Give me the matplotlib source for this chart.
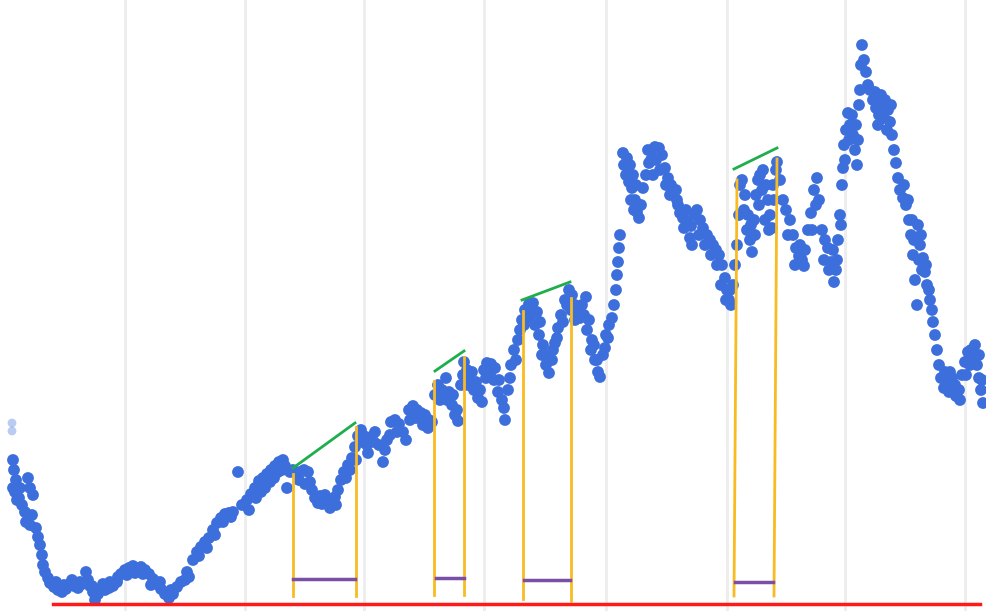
import matplotlib.pyplot as plt

# price series, as (day, price) pairs
faded = [(12, 188), (12, 180)]

decline = [(13, 151), (14, 141), (16, 131), (15, 119), (17, 111), (20, 123),
           (22, 106), (25, 99), (28, 133), (30, 123), (33, 116), (32, 96), (30, 86), (36, 83),
           (38, 74), (40, 66), (42, 56), (43, 46), (45, 39), (48, 33), (50, 28),
           (13, 123), (19, 113), (26, 89)]

bottom = [(54, 24), (58, 21), (62, 19), (66, 22), (70, 27), (74, 25), (78, 23), (82, 27),
          (86, 39), (88, 31), (90, 25), (93, 19), (95, 11), (98, 17), (101, 22), (105, 21),
          (109, 23), (113, 25), (117, 29), (121, 37), (125, 41), (129, 43), (133, 45), (137, 42),
          (141, 44), (145, 41), (149, 37), (153, 32), (157, 27), (161, 22), (165, 17), (169, 13),
          (173, 17), (177, 24), (181, 29), (185, 31), (189, 34),
          (56, 29), (64, 26), (72, 31), (80, 29), (92, 25), (103, 27), (110, 29), (118, 34),
          (127, 36), (135, 38), (143, 37), (151, 26), (160, 29), (171, 21), (187, 39)]

recovery = [(193, 51), (197, 59), (201, 64), (205, 69), (209, 73), (213, 81), (217, 88), (221, 93),
            (225, 97), (229, 98), (233, 99), (238, 139), (242, 106), (247, 111), (251, 117),
            (255, 123), (259, 130), (263, 133), (267, 137), (271, 141), (275, 145), (279, 149),
            (283, 151), (287, 123), (290, 139), (293, 141), (297, 137), (300, 139), (304, 141),
            (308, 139), (312, 121), (315, 113), (318, 108), (322, 107), (327, 108), (331, 110),
            (335, 114), (338, 121), (341, 131), (344, 139), (348, 146), (352, 153), (355, 164),
            (358, 175), (361, 181), (364, 175), (367, 166), (371, 174), (375, 179), (379, 166),
            (383, 149), (387, 171), (391, 189), (395, 191), (399, 187), (403, 179), (406, 171),
            (409, 201), (413, 205), (417, 201), (421, 198), (425, 196), (429, 191), (432, 189),
            (199, 55), (207, 63), (215, 76), (223, 89), (231, 94),
            (249, 101), (256, 113), (261, 119), (265, 123), (270, 129), (274, 133), (278, 139),
            (282, 141), (285, 145), (299, 131), (305, 127), (310, 129), (320, 115), (325, 116),
            (330, 103), (336, 106), (346, 133), (350, 141), (356, 151), (362, 169), (368, 158),
            (374, 169), (385, 161), (390, 176), (397, 179), (410, 191), (416, 193), (423, 186),
            (428, 183)]

rally = [(435, 216), (438, 226), (442, 221), (446, 233), (449, 219), (452, 206), (455, 196),
         (458, 190), (461, 226), (464, 249), (467, 241), (470, 231), (474, 221), (478, 213),
         (482, 209), (484, 241), (487, 248), (491, 247), (495, 243), (499, 231), (502, 211),
         (505, 191), (508, 221), (511, 246), (514, 261), (518, 271), (522, 291), (525, 301),
         (529, 307), (533, 308), (537, 299), (540, 289), (543, 266), (546, 246), (549, 238),
         (552, 251), (555, 268), (558, 283), (561, 296), (565, 311), (569, 321), (572, 316),
         (575, 306), (578, 299), (582, 306), (586, 314), (589, 291), (592, 271), (595, 251),
         (598, 239), (600, 234), (603, 256), (606, 276), (609, 286), (612, 293), (614, 306),
         (616, 321), (617, 336), (618, 349), (619, 363), (620, 376),
         (440, 211), (447, 211), (453, 216), (457, 201), (463, 236), (468, 226), (472, 239),
         (476, 229), (480, 221), (486, 233), (490, 236), (494, 231), (498, 219), (504, 203),
         (510, 233), (516, 251), (520, 281), (524, 286), (527, 293), (531, 296), (535, 286),
         (539, 276), (542, 256), (548, 256), (553, 261), (557, 273), (563, 289), (567, 306),
         (571, 301), (575, 291), (580, 293), (584, 296), (587, 281), (591, 261), (594, 266),
         (597, 251), (605, 263), (608, 273)]

plateau = [(623, 458), (624, 446), (626, 436), (629, 429), (632, 423), (635, 411), (637, 399),
           (639, 393), (641, 406), (643, 423), (646, 436), (649, 448), (652, 461), (655, 464),
           (659, 463), (662, 456), (665, 443), (668, 433), (671, 426), (674, 419), (677, 411),
           (680, 398), (683, 393), (687, 389), (691, 385), (694, 396), (697, 401), (700, 391),
           (703, 383), (707, 376), (710, 371), (713, 366), (716, 361), (719, 356), (722, 346),
           (725, 333), (727, 321), (729, 311), (731, 306), (733, 326), (735, 346), (737, 366),
           (739, 396), (740, 426), (742, 431), (745, 416), (748, 396), (750, 371), (752, 359),
           (754, 391), (756, 416), (758, 431), (760, 436), (763, 441), (766, 426), (768, 411),
           (770, 396), (772, 383), (774, 411), (776, 441), (777, 449), (780, 431), (783, 411),
           (786, 401), (790, 391), (793, 376), (796, 363), (799, 355), (802, 351), (805, 361),
           (808, 381), (811, 398), (814, 421), (817, 433), (819, 411), (822, 381), (825, 371),
           (828, 363), (831, 349), (834, 329), (836, 341), (838, 371), (840, 396),
           (627, 453), (630, 446), (633, 436), (636, 426), (631, 411), (634, 401), (648, 461),
           (651, 451), (656, 451), (660, 441), (653, 436), (666, 426), (670, 416), (676, 421),
           (678, 406), (684, 383), (690, 373), (686, 401), (692, 366), (699, 376), (705, 366),
           (711, 356), (717, 346), (721, 326), (726, 311), (730, 321),
           (744, 401), (747, 381), (751, 386), (755, 376), (759, 406), (762, 421), (765, 391),
           (769, 381), (773, 426), (788, 376), (795, 346), (800, 366), (804, 345), (812, 381),
           (816, 406), (824, 351), (829, 341), (833, 361), (837, 351), (841, 386)]

peak = [(842, 426), (843, 443), (844, 466), (846, 481), (848, 498), (850, 486), (853, 476),
        (855, 461), (857, 446), (858, 471), (859, 506), (860, 521), (861, 546), (862, 566),
        (864, 551), (866, 539), (868, 526), (870, 521), (873, 511), (876, 503), (879, 496),
        (882, 506), (885, 511), (888, 501), (890, 489), (892, 476), (894, 461), (896, 448),
        (898, 433), (900, 421), (903, 413), (906, 406), (909, 391), (911, 376), (913, 356),
        (915, 331), (917, 306), (919, 351), (921, 376), (923, 353), (925, 339), (927, 326),
        (930, 311), (933, 289), (935, 276), (937, 261), (939, 246), (941, 233), (944, 223),
        (947, 231), (950, 239), (953, 226), (956, 215), (959, 221), (962, 236), (965, 249),
        (968, 259), (971, 261), (974, 253), (977, 246), (979, 233), (981, 221), (983, 208),
        (845, 451), (849, 471), (852, 496), (856, 486), (875, 519), (878, 486), (881, 516),
        (884, 493), (887, 481), (891, 506), (904, 426), (908, 411), (912, 391), (914, 371),
        (918, 386), (920, 366), (922, 341), (926, 346), (929, 321), (932, 301), (945, 239),
        (949, 219), (952, 233), (955, 226), (960, 211), (966, 236), (970, 246), (975, 266),
        (979, 256), (982, 231)]

grid_days = [125, 245, 364, 484, 606, 727, 845, 965]

# divergence markers
swing_left = [293, 434, 523, 737]
swing_left_top = [137, 230, 300, 431]
swing_left_bottom_day = [293, 434, 523, 734]
swing_left_bottom = [15, 16, 12, 15]
swing_right = [356, 464, 571, 777]
swing_right_top = [184, 254, 313, 452]
swing_right_bottom_day = [356, 464, 571, 774]
swing_right_bottom = [15, 16, 10, 15]
trend_start = [(293, 143), (435, 240), (522, 311), (734, 442)]
trend_end = [(355, 188), (464, 260), (570, 329), (777, 463)]
span_level = [32, 33, 31, 29]
span_start = [293, 436, 524, 735]
span_end = [355, 464, 570, 773]
floor_level = 7.5

fig = plt.figure(figsize=(9.86, 6.11), dpi=100)
ax = fig.add_axes([0, 0, 1, 1])

for g in grid_days:
    ax.axvline(g, color="#ededed", lw=2, zorder=0)

ax.scatter([p[0] for p in faded], [p[1] for p in faded], s=40, color="#3c6edc",
           alpha=0.35, edgecolors="none", zorder=2)
for seg in [decline, bottom, recovery, rally, plateau, peak]:
    xs = [p[0] for p in seg]
    ys = [p[1] for p in seg]
    ax.scatter(xs, ys, s=72, color="#3c6edc", edgecolors="none", zorder=2)

ax.plot([53, 980], [floor_level, floor_level], color="#ff1a1a", lw=2.5, zorder=3)

for i in range(len(swing_left)):
    ax.plot([swing_left[i], swing_left_bottom_day[i]], [swing_left_top[i], swing_left_bottom[i]],
            color="#f8bb22", lw=2, zorder=3)
    ax.plot([swing_right[i], swing_right_bottom_day[i]], [swing_right_top[i], swing_right_bottom[i]],
            color="#f8bb22", lw=2, zorder=3)
    ax.plot([trend_start[i][0], trend_end[i][0]], [trend_start[i][1], trend_end[i][1]],
            color="#1fae4b", lw=2, zorder=3)
    ax.plot([span_start[i], span_end[i]], [span_level[i], span_level[i]],
            color="#7a4fa6", lw=2.5, zorder=3)

ax.set_xlim(0, 986)
ax.set_ylim(0, 611)
ax.axis("off")

fig.savefig("out.png", dpi=100)
